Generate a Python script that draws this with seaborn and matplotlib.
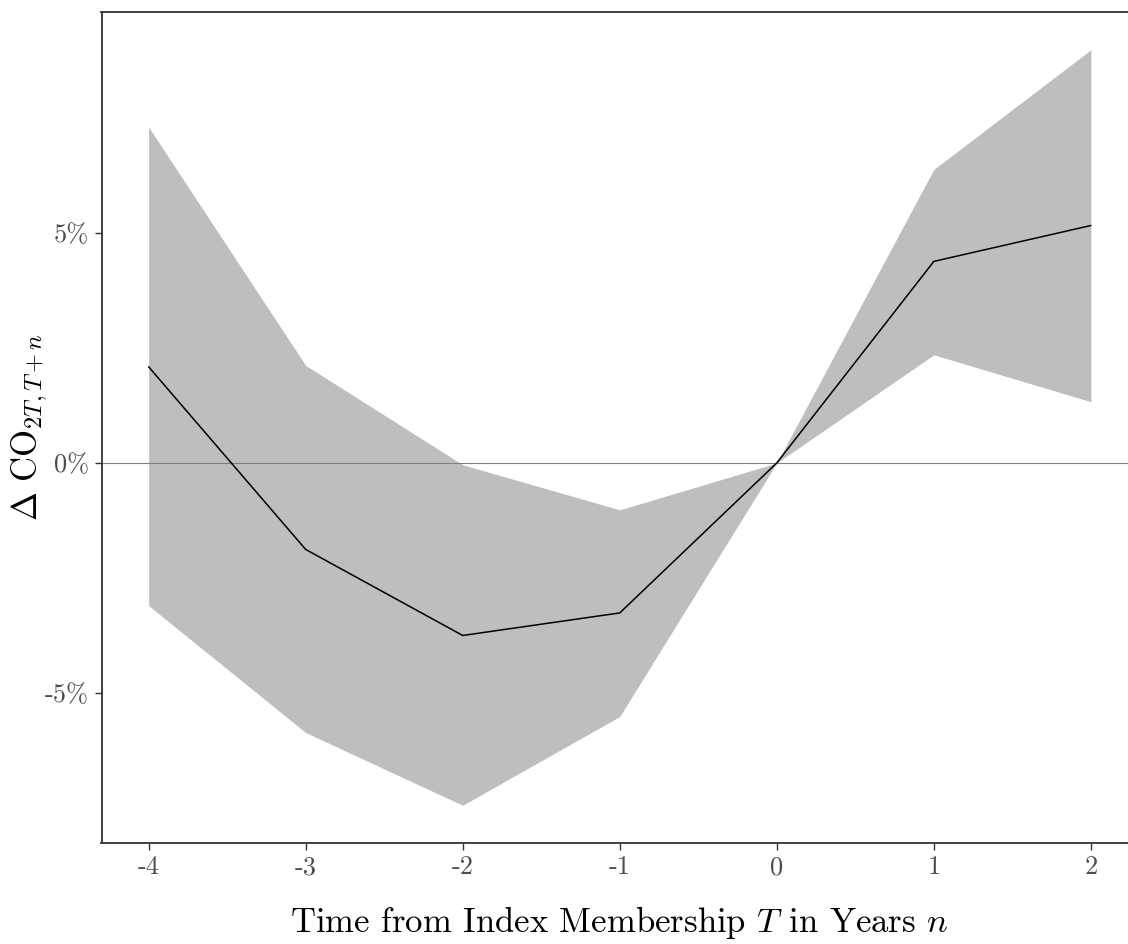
import matplotlib
matplotlib.use("Agg")
import matplotlib.pyplot as plt
import seaborn as sns
import pandas as pd

# ---- data (percent) ----
years = [-4, -3, -2, -1, 0, 1, 2]
estimate = [2.09, -1.88, -3.75, -3.26, 0.0, 4.38, 5.16]
upper = [7.30, 2.12, -0.04, -1.02, 0.0, 6.38, 8.98]
lower = [-3.10, -5.86, -7.44, -5.51, 0.0, 2.35, 1.33]
x_ticks = [-4, -3, -2, -1, 0, 1, 2]
x_tick_labels = ["-4", "-3", "-2", "-1", "0", "1", "2"]
y_ticks = [-5, 0, 5]
y_tick_labels = ["-5%", "0%", "5%"]

df = pd.DataFrame({"n": years, "est": estimate, "lo": lower, "hi": upper})

sns.set_style("white")
plt.rcParams["font.family"] = ["cmr10", "DejaVu Serif"]
plt.rcParams["mathtext.fontset"] = "cm"
plt.rcParams["axes.unicode_minus"] = False
plt.rcParams["axes.formatter.use_mathtext"] = True

W, H = 1128, 944
fig = plt.figure(figsize=(W / 100, H / 100), dpi=100)
left_px, right_px, top_px, bottom_px = 101.5, 1138, 12, 843
ax = fig.add_axes([left_px / W, (H - bottom_px) / H,
                   (right_px - left_px) / W, (bottom_px - top_px) / H])

ax.fill_between(df["n"], df["lo"], df["hi"], color="#BEBEBE", linewidth=0, zorder=1)
ax.axhline(0, color="#808080", linewidth=0.8, zorder=2)
sns.lineplot(data=df, x="n", y="est", color="black", linewidth=1.1, ax=ax, zorder=3)

ax.set_xlim(-4.3, 2.3)
ax.set_ylim(-8.26, 9.80)
ax.set_xticks(x_ticks)
ax.set_xticklabels(x_tick_labels)
ax.set_yticks(y_ticks)
ax.set_yticklabels(y_tick_labels)

ax.tick_params(axis="both", which="major", direction="out", length=5, width=1.0,
               color="#333333", labelcolor="#4D4D4D", labelsize=19, pad=4,
               bottom=True, left=True)

for side in ["left", "top", "bottom", "right"]:
    ax.spines[side].set_visible(True)
    ax.spines[side].set_color("#333333")
    ax.spines[side].set_linewidth(1.3)

ax.set_xlabel(r"Time from Index Membership $T$ in Years $n$", fontsize=25, color="black")
ax.xaxis.set_label_coords(0.5, -0.074)
ax.set_ylabel(r"$\Delta\ \mathrm{CO}_{2T,T+n}$", fontsize=25, color="black", va="center")
ax.yaxis.set_label_coords((30 - left_px) / (right_px - left_px), 0.5)

fig.savefig("out.png", dpi=100)
